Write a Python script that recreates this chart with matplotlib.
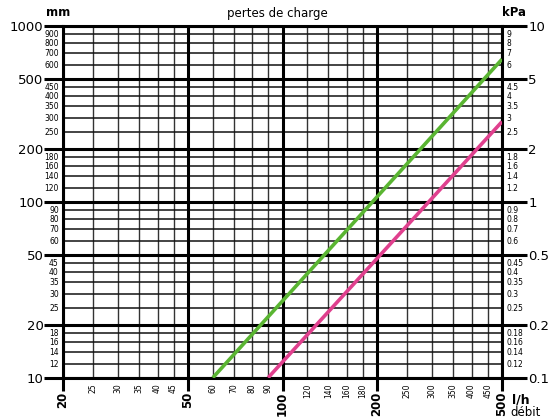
import matplotlib
matplotlib.use("Agg")
import matplotlib.pyplot as plt
from matplotlib.ticker import FixedLocator, FixedFormatter

# ---- data ----
x_major = [20, 50, 100, 200, 500]
x_minor = [25, 30, 35, 40, 45, 60, 70, 80, 90, 120, 140, 160, 180, 250, 300, 350, 400, 450]
y_major = [10, 20, 50, 100, 200, 500, 1000]
y_minor = [12, 14, 16, 18, 25, 30, 35, 40, 45, 60, 70, 80, 90, 120, 140, 160, 180,
           250, 300, 350, 400, 450, 600, 700, 800, 900]
kpa_major = [0.1, 0.2, 0.5, 1, 2, 5, 10]
kpa_major_labels = ["0.1", "0.2", "0.5", "1", "2", "5", "10"]
kpa_minor = [0.12, 0.14, 0.16, 0.18, 0.25, 0.3, 0.35, 0.4, 0.45, 0.6, 0.7, 0.8, 0.9,
             1.2, 1.4, 1.6, 1.8, 2.5, 3, 3.5, 4, 4.5, 6, 7, 8, 9]
kpa_minor_labels = ["0.12", "0.14", "0.16", "0.18", "0.25", "0.3", "0.35", "0.4", "0.45",
                    "0.6", "0.7", "0.8", "0.9", "1.2", "1.4", "1.6", "1.8", "2.5", "3",
                    "3.5", "4", "4.5", "6", "7", "8", "9"]

green_flow = [60, 500]
green_loss = [10, 645]
pink_flow = [90, 500]
pink_loss = [10, 285]

GREEN = "#5ab532"
PINK = "#e0408e"

plt.rcParams['font.family'] = ['DejaVu Sans']

fig = plt.figure(figsize=(5.53, 4.2), dpi=100)
ax = fig.add_axes([0.1139, 0.1007, 0.7939, 0.8381])
ax.set_xscale('log')
ax.set_yscale('log')
ax.set_xlim(20, 500)
ax.set_ylim(10, 1000)

# grid
for v in x_minor:
    ax.axvline(v, color='#333333', lw=1.0, zorder=1)
for v in y_minor:
    ax.axhline(v, color='#111111', lw=1.1, zorder=1)
for v in x_major:
    ax.axvline(v, color='black', lw=2.2, zorder=2)
for v in y_major:
    ax.axhline(v, color='black', lw=2.2, zorder=2)

for s in ax.spines.values():
    s.set_linewidth(2.2)

# curves
ax.plot(green_flow, green_loss, color=GREEN, lw=2.6, zorder=5, solid_capstyle='butt')
ax.plot(pink_flow, pink_loss, color=PINK, lw=2.6, zorder=5, solid_capstyle='butt')

# x ticks
ax.xaxis.set_major_locator(FixedLocator(x_major))
ax.xaxis.set_major_formatter(FixedFormatter([str(v) for v in x_major]))
ax.xaxis.set_minor_locator(FixedLocator(x_minor))
ax.xaxis.set_minor_formatter(FixedFormatter([str(v) for v in x_minor]))
ax.tick_params(axis='x', which='major', direction='out', length=9, width=2.2,
               labelsize=8.5, pad=1, labelrotation=90)
ax.tick_params(axis='x', which='minor', length=0, labelsize=5.5, pad=4, labelrotation=90)
for t in ax.xaxis.get_majorticklabels():
    t.set_fontweight('bold')

# y ticks left
ax.yaxis.set_major_locator(FixedLocator(y_major))
ax.yaxis.set_major_formatter(FixedFormatter([str(v) for v in y_major]))
ax.yaxis.set_minor_locator(FixedLocator(y_minor))
ax.yaxis.set_minor_formatter(FixedFormatter([str(v) for v in y_minor]))
ax.tick_params(axis='y', which='major', direction='out', length=14, width=2.2,
               labelsize=9.5, pad=0)
ax.tick_params(axis='y', which='minor', length=0, labelsize=5.5, pad=3)

# right kPa axis
ax2 = ax.twinx()
ax2.set_yscale('log')
ax2.set_ylim(0.1, 10)
ax2.yaxis.set_major_locator(FixedLocator(kpa_major))
ax2.yaxis.set_major_formatter(FixedFormatter(kpa_major_labels))
ax2.yaxis.set_minor_locator(FixedLocator(kpa_minor))
ax2.yaxis.set_minor_formatter(FixedFormatter(kpa_minor_labels))
ax2.tick_params(axis='y', which='major', direction='out', length=18, width=2.2,
                labelsize=9.5, pad=1)
ax2.tick_params(axis='y', which='minor', length=0, labelsize=5.5, pad=3)
for s in ax2.spines.values():
    s.set_visible(False)

# texts
fig.text(277 / 553, 1 - 14 / 420, "pertes de charge", ha='center', va='center', fontsize=8.5)
fig.text(58 / 553, 1 - 13 / 420, "mm", ha='center', va='center', fontsize=8.5, fontweight='bold')
fig.text(514 / 553, 1 - 13 / 420, "kPa", ha='center', va='center', fontsize=8.5, fontweight='bold')
fig.text(512 / 553, 1 - 400 / 420, "l/h", ha='left', va='center', fontsize=9, fontweight='bold')
fig.text(510 / 553, 1 - 412 / 420, "débit", ha='left', va='center', fontsize=8.5)

fig.savefig("out.png", dpi=100)
